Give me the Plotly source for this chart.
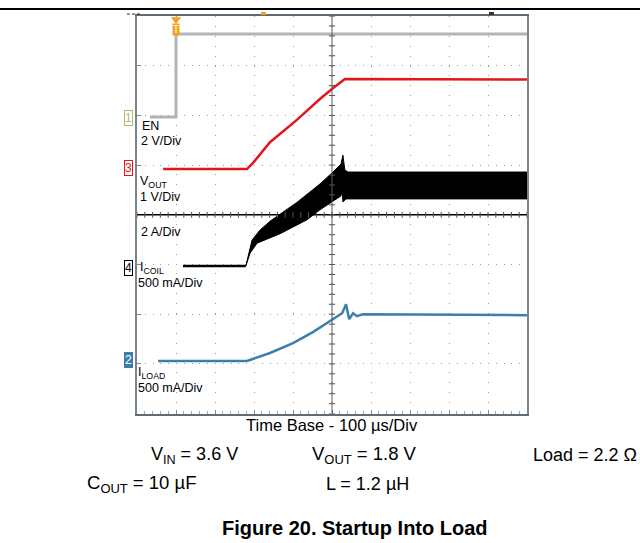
import plotly.graph_objects as go

W, H = 640, 543

# 画面データ (時間 µs, 縦軸は画面の目盛り [div])
en_t = [33, 100, 100, 1000]
en_y = [5.97, 5.97, 7.64, 7.64]

vout_t = [67, 282, 297, 341, 410, 469, 503, 533, 1000]
vout_y = [4.92, 4.92, 5.04, 5.46, 5.91, 6.33, 6.55, 6.73, 6.72]

icoil_flat_t = [118, 279]
icoil_flat_y = [2.97, 2.97]
icoil_hi_t = [279, 285, 295, 315, 341, 410, 469, 508, 523, 528, 533, 541, 1000]
icoil_hi_y = [2.97, 3.19, 3.49, 3.69, 3.87, 4.25, 4.62, 4.90, 5.02, 5.20, 4.90, 4.86, 4.86]
icoil_lo_t = [279, 290, 308, 367, 436, 469, 523, 526, 528, 536, 1000]
icoil_lo_y = [2.97, 3.23, 3.43, 3.62, 3.90, 4.10, 4.38, 4.50, 4.26, 4.32, 4.32]

iload_t = [54, 282, 341, 400, 451, 500, 526, 536, 544, 554, 564, 579, 1000]
iload_y = [1.06, 1.06, 1.22, 1.42, 1.64, 1.88, 2.02, 2.20, 1.90, 2.02, 1.96, 2.00, 1.98]

FONT = "Liberation Sans, Arial, sans-serif"
X0, X1, Y0, Y1 = 137, 527, 16, 413.6  # 画面枠 (px)


def px(x):
    return x / W


def py(y):
    return 1 - y / H


fig = go.Figure()

fig.add_trace(go.Scatter(x=en_t, y=en_y, mode="lines",
                         line=dict(color="#b4b4b4", width=3)))
fig.add_trace(go.Scatter(x=vout_t, y=vout_y, mode="lines",
                         line=dict(color="#e3161c", width=2.5)))
fig.add_trace(go.Scatter(x=icoil_flat_t, y=icoil_flat_y, mode="lines",
                         line=dict(color="black", width=2.5)))
fig.add_trace(go.Scatter(x=icoil_lo_t, y=icoil_lo_y, mode="lines",
                         line=dict(color="black", width=1)))
fig.add_trace(go.Scatter(x=icoil_hi_t, y=icoil_hi_y, mode="lines", fill="tonexty",
                         fillcolor="black", line=dict(color="black", width=1)))
fig.add_trace(go.Scatter(x=iload_t, y=iload_y, mode="lines",
                         line=dict(color="#3a80ab", width=2.5)))

# トリガーマーカー
fig.add_trace(go.Scatter(x=[100], y=[7.93], mode="markers", cliponaxis=False,
                         marker=dict(symbol="triangle-down", size=9, color="#f5a21b")))

shapes = []
# 中心線
shapes.append(dict(type="line", xref="x", yref="y", x0=500, x1=500, y0=0, y1=8,
                   line=dict(color="#5a5a5a", width=1)))
shapes.append(dict(type="line", xref="x", yref="y", x0=0, x1=1000, y0=4, y1=4,
                   line=dict(color="black", width=1.5)))
# 中心線の小目盛り
for i in range(51):
    t = i * 20
    shapes.append(dict(type="line", xref="x", yref="y", x0=t, x1=t, y0=3.94, y1=4.06,
                       line=dict(color="#555", width=1)))
for i in range(41):
    v = i * 0.2
    shapes.append(dict(type="line", xref="x", yref="y", x0=492, x1=508, y0=v, y1=v,
                       line=dict(color="#555", width=1)))
# ヘッダー線
shapes.append(dict(type="line", xref="paper", yref="paper", x0=0, x1=1, y0=py(9), y1=py(9),
                   line=dict(color="black", width=2)))
# 上部の小マーカー
shapes.append(dict(type="rect", xref="paper", yref="paper", x0=px(261), x1=px(266),
                   y0=py(15), y1=py(12), fillcolor="#f5a21b", line=dict(width=0)))
shapes.append(dict(type="rect", xref="paper", yref="paper", x0=px(489), x1=px(494),
                   y0=py(15), y1=py(12), fillcolor="#333", line=dict(width=0)))
shapes.append(dict(type="line", xref="paper", yref="paper", x0=px(127), x1=px(142),
                   y0=py(14), y1=py(14), line=dict(color="#333", width=1, dash="3px,2px")))

ann = []


def label(x, y, text, size=12.5, **kw):
    ann.append(dict(x=px(x), y=py(y), xref="paper", yref="paper", text=text,
                    showarrow=False, xanchor=kw.pop("xanchor", "left"), yanchor="middle",
                    font=dict(family=FONT, size=size, color=kw.pop("color", "black")), **kw))


# チャンネルマーカー
def chan(y, n, color, filled=False):
    ann.append(dict(x=px(124), y=py(y), xref="paper", yref="paper", text=n,
                    showarrow=False, xanchor="left", yanchor="middle",
                    font=dict(family=FONT, size=12, color="white" if filled else color),
                    bordercolor=color, borderwidth=1, borderpad=0,
                    bgcolor=color if filled else "white"))


chan(118, "1", "#b8b86a")
chan(168, "3", "#e3161c")
chan(268, "4", "black")
chan(360, "2", "#3a80ab", filled=True)

label(140, 126, "EN")
label(139, 141, "2 V/Div")
label(138, 182, "V<sub>OUT</sub>")
label(138, 197, "1 V/Div")
label(139, 232, "2 A/Div")
label(138, 268, "I<sub>COIL</sub>")
label(136, 283, "500 mA/Div")
label(136, 373, "I<sub>LOAD</sub>")
label(136, 388, "500 mA/Div")

ann.append(dict(x=px(176), y=py(30), xref="paper", yref="paper", text="T", showarrow=False,
                xanchor="center", yanchor="middle",
                font=dict(family=FONT, size=10, color="white"),
                bgcolor="#f5a21b", borderpad=0))

label(332, 425, "Time Base - 100 µs/Div", size=16.5, xanchor="center")
label(194, 455, "V<sub>IN</sub> = 3.6 V", size=18, xanchor="center")
label(364, 455, "V<sub>OUT</sub> = 1.8 V", size=18.5, xanchor="center")
label(639, 455, "Load = 2.2 Ω", size=18, xanchor="right")
label(141, 484, "C<sub>OUT</sub> = 10 µF", size=18.5, xanchor="center")
label(367, 484, "L = 1.2 µH", size=18, xanchor="center")
label(355, 528, "<b>Figure 20. Startup Into Load</b>", size=20, xanchor="center")

fig.update_xaxes(range=[0, 1000], domain=[px(X0), px(X1)], dtick=100,
                 showgrid=True, gridcolor="#9a9a9a", griddash="1px,8.9px", gridwidth=1,
                 showticklabels=False, zeroline=False,
                 showline=True, linecolor="#5f6b75", linewidth=2, mirror=True,
                 ticks="inside", ticklen=4, tickcolor="#888",
                 minor=dict(dtick=20, ticks="inside", ticklen=3, tickcolor="#aaa"))
fig.update_yaxes(range=[0, 8], domain=[py(Y1), py(Y0)], dtick=1,
                 showgrid=True, gridcolor="#9a9a9a", griddash="1px,6.8px", gridwidth=1,
                 showticklabels=False, zeroline=False,
                 showline=True, linecolor="#7a848c", linewidth=1.5, mirror=True,
                 ticks="inside", ticklen=4, tickcolor="#888")

fig.update_layout(width=W, height=H, margin=dict(l=0, r=0, t=0, b=0),
                  paper_bgcolor="white", plot_bgcolor="white", showlegend=False,
                  shapes=shapes, annotations=ann)

fig.write_html("out.html", config={"displayModeBar": False},
               post_script="document.body.style.margin='0';")
